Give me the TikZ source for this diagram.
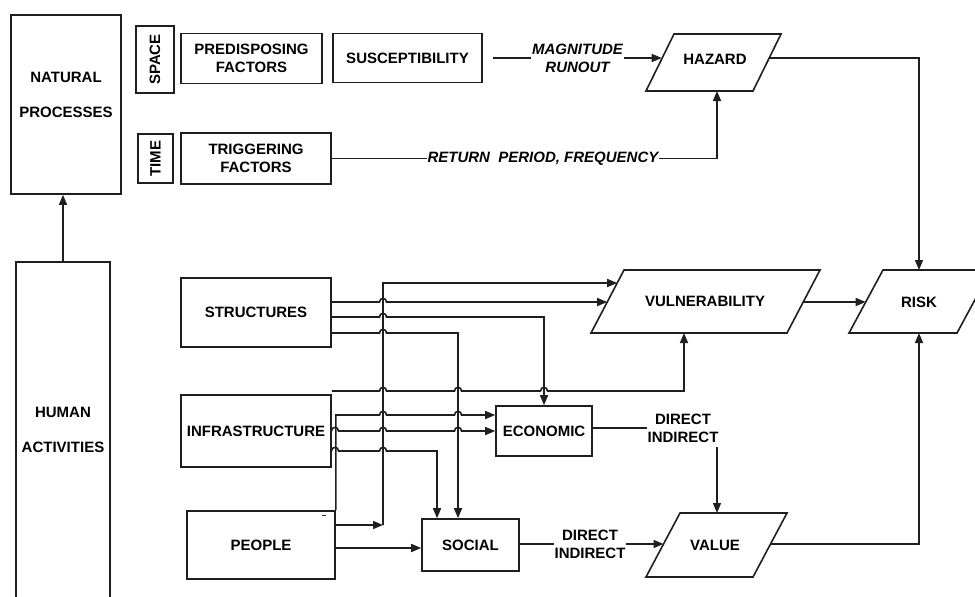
\documentclass[tikz,border=0pt]{standalone}
\usepackage{fontspec}
\setmainfont{Liberation Sans}
\usetikzlibrary{arrows.meta}
\newcommand{\jmpx}[2]{-- (#1-3.5,#2) .. controls (#1-3.5,#2-4.8) and (#1+3.5,#2-4.8) .. (#1+3.5,#2)}
\begin{document}
\begin{tikzpicture}[x=1pt,y=-1pt,
  line width=1.6pt, draw=black!88,
  box/.style={draw, rectangle, inner sep=0pt, font=\fontsize{15}{18}\selectfont\bfseries, align=center},
  lbl/.style={inner sep=0pt, font=\fontsize{15}{18}\selectfont\bfseries, align=center},
  ilbl/.style={inner sep=0pt, font=\fontsize{15}{18}\selectfont\bfseries\itshape, align=center},
  big/.style={inner sep=0pt, font=\fontsize{15}{35}\selectfont\bfseries, align=center},
  arr/.style={-{Triangle[length=10pt,width=8pt]}}]
\useasboundingbox (0,0) rectangle (975,597);
\clip (0,0) rectangle (975,597);

% left column
\node[box, minimum width=110, minimum height=179] (nat) at (66,104.5) {};
\node[big] (natt) at (66,94.5) {NATURAL\\PROCESSES};
\node[box, minimum width=94, minimum height=348] (human) at (63,436) {};
\node[big] (humant) at (63,429.5) {HUMAN\\ACTIVITIES};
\draw[arr] (human.north) -- (human.north |- nat.south);

% top rows
\node[box, rotate=90, minimum width=67, minimum height=38] (space) at (155,59.5) {SPACE};
\node[box, minimum width=141, minimum height=50] (pred) at (251.5,58.5) {PREDISPOSING\\FACTORS};
\node[box, minimum width=149, minimum height=49] (susc) at (407.5,58) {SUSCEPTIBILITY};
\node[box, rotate=90, minimum width=49, minimum height=35] (time) at (155.5,158.5) {TIME};
\node[box, minimum width=150, minimum height=51] (trig) at (256,158.5) {TRIGGERING\\FACTORS};

% parallelograms
\draw (674,34) -- (781,34) -- (753,91) -- (646,91) -- cycle;
\node[lbl] (haz) at (715,59) {HAZARD};
\draw (624,270) -- (820,270) -- (787,333) -- (591,333) -- cycle;
\node[lbl] (vul) at (705,301.5) {VULNERABILITY};
\draw (883,270) -- (991,270) -- (957,333) -- (849,333) -- cycle;
\node[lbl] (risk) at (919,302) {RISK};
\draw (680,513) -- (787,513) -- (753,577) -- (646,577) -- cycle;
\node[lbl] (val) at (715,545) {VALUE};

\coordinate (hazL) at (661.7,58);
\coordinate (hazR) at (769.2,58);
\coordinate (hazB) at (717,91);
\coordinate (vulL1) at (617.2,283);
\coordinate (vulL2) at (607.2,302);
\coordinate (vulR) at (803.2,302);
\coordinate (vulB) at (684,333);
\coordinate (riskL) at (865.7,302);
\coordinate (riskT) at (919,270);
\coordinate (riskB) at (919,333);
\coordinate (valL) at (663.5,544);
\coordinate (valR) at (770.5,544);
\coordinate (valT) at (717,513);

% labels
\node[ilbl] (mag) at (577.5,58) {MAGNITUDE\\RUNOUT};
\node[ilbl] (ret) at (543,158.5) {RETURN\ \ PERIOD, FREQUENCY};

\draw ([xshift=10pt]susc.east) -- (mag.west);
\draw[arr] (mag.east) -- (hazL);
\draw (trig.east) -- (ret.west);
\draw[arr] (ret.east) -| (hazB);
\draw[arr] (hazR) -| (riskT);
\draw[arr] (vulR) -- (riskL);
\draw[arr] (valR) -| (riskB);

% lower boxes
\node[box, minimum width=150, minimum height=69] (str) at (256,312.5) {STRUCTURES};
\node[box, minimum width=150, minimum height=72] (infra) at (256,431) {INFRASTRUCTURE};
\node[box, minimum width=148, minimum height=68] (people) at (261,545) {PEOPLE};
\node[box, minimum width=96, minimum height=50] (econ) at (544,431) {ECONOMIC};
\node[box, minimum width=97, minimum height=52] (soc) at (470.5,545) {SOCIAL};
\draw[line width=1pt] (322,515) -- (326,515);

\node[lbl] (d1) at (683,428) {DIRECT\\INDIRECT};
\node[lbl] (d2) at (590,544) {DIRECT\\INDIRECT};
\coordinate (d1out) at (717,447);
\draw (econ.east |- d1.west) -- (d1.west);
\draw[arr] (d1out) -- (valT);
\draw (soc.east |- d2.west) -- (d2.west);
\draw[arr] (d2.east) -- (valL);

\coordinate (socT1) at ([xshift=-33.5pt]soc.north);
\coordinate (socT2) at ([xshift=-12.5pt]soc.north);
\coordinate (aBot) at (383,525);

% wiring
\draw[arr] (str.east |- 0,302) \jmpx{383}{302} -- (vulL2);
\draw[arr] (str.east |- 0,317) \jmpx{383}{317} -| (econ.north);
\draw[arr] (str.east |- 0,333) \jmpx{383}{333} -| (socT2);
\draw[arr] (infra.north east |- 0,391) \jmpx{383}{391} \jmpx{458}{391} \jmpx{544}{391} -| (vulB);
\draw[arr] (people.north east) -- (people.north east |- 0,415) \jmpx{383}{415} \jmpx{458}{415} -- (econ.west |- 0,415);
\draw[arr] (infra.east |- 0,431) \jmpx{335}{431} \jmpx{383}{431} \jmpx{458}{431} -- (econ.west |- 0,431);
\draw[arr] (infra.east |- 0,451) \jmpx{335}{451} \jmpx{383}{451} -| (socT1);
\draw[arr] (people.east |- 0,525) -- (aBot);
\draw[arr] (aBot) |- (vulL1);
\draw[arr] (people.east |- 0,548) -- (soc.west |- 0,548);
\end{tikzpicture}
\end{document}
